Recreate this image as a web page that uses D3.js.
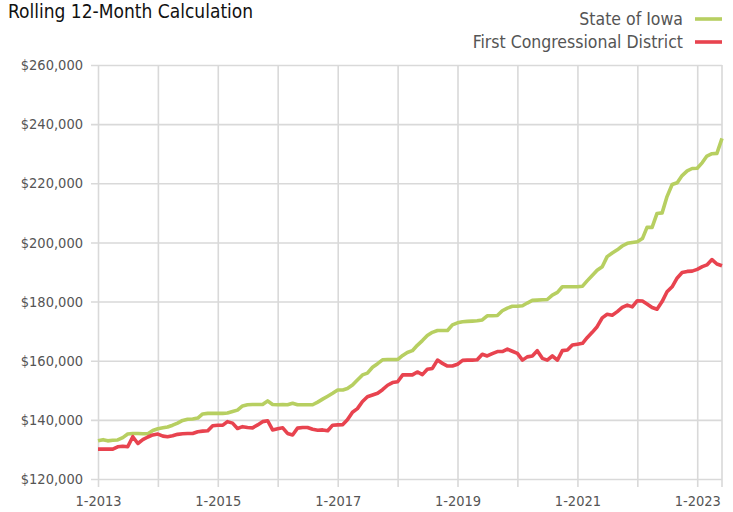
<!DOCTYPE html>
<html>
<head>
<meta charset="utf-8">
<script src="https://cdn.jsdelivr.net/npm/d3@7"></script>
<style>
  body { margin: 0; background: #fff; }
  svg text { font-family: "Liberation Sans Narrow", "DejaVu Sans Condensed", "DejaVu Sans", sans-serif; font-stretch: condensed; }
</style>
</head>
<body>
<svg id="chart" width="733" height="512"></svg>
<script>
// monthly rolling 12-month values, Jan 2013 .. Jun 2023
var startMonth = new Date(2013, 0, 1);

var iowa = [
  132900, 133300, 132900, 133100, 133200, 134000, 135200, 135400, 135400, 135300, 135300, 136400,
  137000, 137300, 137600, 138200, 138900, 139800, 140200, 140300, 140600, 142000, 142200, 142200,
  142200, 142200, 142300, 142800, 143300, 144700, 145100, 145200, 145200, 145200, 146400, 145200,
  145100, 145200, 145100, 145600, 145100, 145100, 145100, 145100, 146000, 147000, 148000, 149000,
  150100, 150100, 150600, 151800, 153500, 155200, 155800, 157800, 159000, 160300, 160400, 160400,
  160400, 161800, 162800, 163400, 165200, 166800, 168500, 169600, 170200, 170200, 170200, 172100,
  172800, 173200, 173300, 173400, 173500, 173800, 175200, 175200, 175300, 176900, 177800, 178400,
  178400, 178600, 179500, 180400, 180500, 180600, 180700, 182200, 183100, 185000, 185000, 185000,
  185000, 185200, 187000, 188800, 190600, 191800, 195200, 196400, 197500, 198800, 199700, 200000,
  200200, 201300, 205100, 205100, 209800, 210000, 215500, 219600, 220200, 222600, 224200, 225000,
  225100, 227000, 229200, 230000, 230100, 235200
];

var district = [
  130100, 130100, 130100, 130100, 130900, 131100, 130900, 134300, 132000, 133300, 134200, 134900,
  135200, 134500, 134300, 134600, 135100, 135300, 135400, 135400, 136000, 136200, 136300, 138000,
  138200, 138200, 139400, 138900, 137100, 137700, 137400, 137300, 138300, 139400, 139700, 136600,
  137000, 137300, 135400, 134900, 137200, 137400, 137400, 136800, 136500, 136600, 136300, 138200,
  138300, 138400, 140000, 142600, 143800, 146200, 147800, 148400, 149000, 150200, 151700, 152600,
  152900, 155200, 155200, 155200, 156200, 155300, 157100, 157400, 160200, 159100, 158200, 158200,
  158800, 160100, 160200, 160200, 160300, 162200, 161600, 162400, 163100, 163100, 163900, 163200,
  162500, 160200, 161300, 161600, 163400, 160800, 160200, 161600, 160200, 163400, 163600, 165300,
  165600, 165900, 167800, 169600, 171500, 174500, 175700, 175400, 176600, 178000, 178800, 178200,
  180300, 180200, 179200, 178000, 177400, 180000, 183300, 185000, 188000, 189800, 190200, 190300,
  190900, 191800, 192400, 194200, 192700, 192100
];

var seriesNames = ["State of Iowa", "First Congressional District"];
var seriesColors = ["#b7cf61", "#e8434f"];
var yTicks = [120000, 140000, 160000, 180000, 200000, 220000, 240000, 260000];
var xTickYears = [2013, 2014, 2015, 2016, 2017, 2018, 2019, 2020, 2021, 2022, 2023];

var margin = {top: 65, right: 11, bottom: 33, left: 98};
var width = 733, height = 512;

var svg = d3.select("#chart");

var dates = iowa.map((d, i) => d3.timeMonth.offset(startMonth, i));

var x = d3.scaleTime()
  .domain([startMonth, dates[dates.length - 1]])
  .range([margin.left, width - margin.right]);

var y = d3.scaleLinear()
  .domain([120000, 260000])
  .range([height - margin.bottom, margin.top]);

var grid = "#d9d9d9";

// horizontal grid + y labels
var yAxis = d3.axisLeft(y)
  .tickValues(yTicks)
  .tickSize(-(width - margin.right - margin.left) - 7)
  .tickPadding(8)
  .tickFormat(d => "$" + d3.format(",")(d));

svg.append("g")
  .attr("transform", `translate(${margin.left - 7},0)`)
  .call(yAxis)
  .call(g => g.select(".domain").remove())
  .call(g => g.selectAll(".tick line").attr("stroke", grid).attr("stroke-width", 1.6))
  .call(g => g.selectAll(".tick text").attr("fill", "#555").style("font-size", "14.5px"));

// vertical grid + x labels
var xAxis = d3.axisBottom(x)
  .tickValues(xTickYears.map(yr => new Date(yr, 0, 1)))
  .tickSize(-(height - margin.bottom - margin.top) - 8)
  .tickPadding(9)
  .tickFormat(d => (d.getFullYear() % 2 === 1) ? "1-" + d.getFullYear() : "");

svg.append("g")
  .attr("transform", `translate(0,${height - margin.bottom + 8})`)
  .call(xAxis)
  .call(g => g.select(".domain").remove())
  .call(g => g.selectAll(".tick line").attr("stroke", grid).attr("stroke-width", 1.6))
  .call(g => g.selectAll(".tick text").attr("fill", "#555").style("font-size", "14.5px"));

// right edge line
svg.append("line")
  .attr("x1", x(dates[dates.length - 1])).attr("x2", x(dates[dates.length - 1]))
  .attr("y1", y(260000)).attr("y2", y(120000) + 8)
  .attr("stroke", grid).attr("stroke-width", 1.6);

var line = d3.line()
  .x((d, i) => x(dates[i]))
  .y(d => y(d));

[iowa, district].forEach((s, k) => {
  svg.append("path")
    .datum(s)
    .attr("fill", "none")
    .attr("stroke", seriesColors[k])
    .attr("stroke-width", 3.6)
    .attr("stroke-linejoin", "round")
    .attr("d", line);
});

// title
svg.append("text")
  .attr("x", 8).attr("y", 18)
  .attr("fill", "#111")
  .style("font-size", "19px")
  .text("Rolling 12-Month Calculation");

// legend
var legend = svg.append("g");
seriesNames.forEach((name, k) => {
  var ly = 19 + k * 23;
  legend.append("text")
    .attr("x", 683).attr("y", ly + 6)
    .attr("text-anchor", "end")
    .attr("fill", "#555")
    .style("font-size", "17.5px")
    .text(name);
  legend.append("line")
    .attr("x1", 695).attr("x2", 722)
    .attr("y1", ly).attr("y2", ly)
    .attr("stroke", seriesColors[k])
    .attr("stroke-width", 3.6);
});
</script>
</body>
</html>
